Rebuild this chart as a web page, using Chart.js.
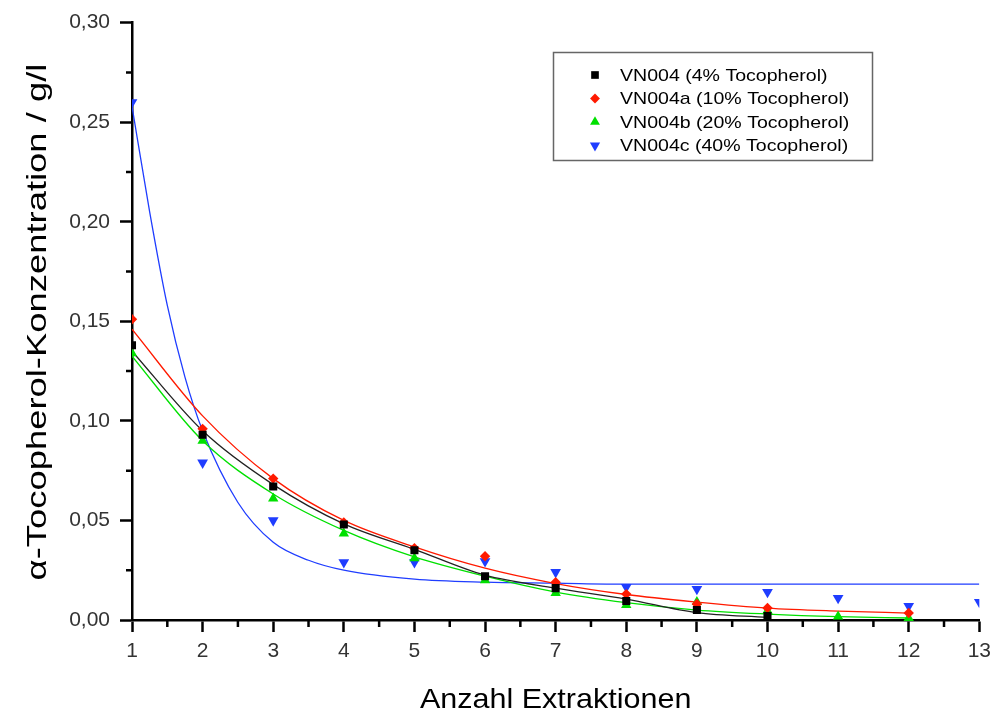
<!DOCTYPE html>
<html>
<head>
<meta charset="utf-8">
<script src="https://cdn.jsdelivr.net/npm/chart.js@4.4.1/dist/chart.umd.min.js"></script>
<style>
  html, body { margin: 0; padding: 0; background: #fff; }
</style>
</head>
<body>
<canvas id="chart" width="998" height="713"></canvas>
<script>
// Measured points (Anzahl Extraktionen -> g/l)
const extractions = [1, 2, 3, 4, 5, 6, 7, 8, 9, 10, 11, 12, 13];
const vn004  = [0.138, 0.093, 0.067, 0.048, 0.035, 0.022, 0.016, 0.0095, 0.005, 0.002];
const vn004a = [0.151, 0.096, 0.071, 0.049, 0.036, 0.032, 0.019, 0.013, 0.008, 0.006, null, 0.0035];
const vn004b = [0.134, 0.090, 0.061, 0.0435, 0.031, 0.020, 0.0135, 0.0075, 0.009, 0.0047, 0.0017, 0.001];
const vn004c = [0.260, 0.079, 0.050, 0.029, 0.029, 0.0295, 0.024, 0.0165, 0.0155, 0.014, 0.011, 0.007, 0.009];

// Fitted curves
const fitX = [1, 2, 3, 4, 5, 6, 7, 8, 9, 10, 11, 12];
const fitVn004  = [0.135, 0.095, 0.068, 0.0483, 0.0355, 0.0225, 0.016, 0.0105, 0.0037, 0.0013];
const fitVn004a = [0.146, 0.1025, 0.071, 0.050, 0.0367, 0.026, 0.0183, 0.0128, 0.009, 0.006, 0.0045, 0.0035];
const fitVn004b = [0.1325, 0.090, 0.0633, 0.045, 0.0317, 0.022, 0.014, 0.0087, 0.005, 0.003, 0.0017, 0.001];
const fitVn004cX = [1, 1.25, 1.5, 1.75, 2, 2.5, 3, 3.5, 4, 5, 6, 7, 8, 10, 13];
const fitVn004c  = [0.258, 0.205, 0.158, 0.122, 0.095, 0.059, 0.039, 0.030, 0.025, 0.0205, 0.019, 0.0185, 0.018, 0.018, 0.018];

const seriesLabels = ['VN004 (4% Tocopherol)', 'VN004a (10% Tocopherol)', 'VN004b (20% Tocopherol)', 'VN004c (40% Tocopherol)'];
const seriesColors = ['#000000', '#ff1a00', '#00e000', '#1f3dff'];

const xMinorTicks = [1.5, 2.5, 3.5, 4.5, 5.5, 6.5, 7.5, 8.5, 9.5, 10.5, 11.5, 12.5];
const yMinorTicks = [0.025, 0.075, 0.125, 0.175, 0.225, 0.275];

const FONT = "'Liberation Sans', Arial, sans-serif";

const pairs = (xs, ys) => ys.map((y, i) => ({ x: xs[i], y }));

const markers = [
  { pointStyle: 'rect', radius: 5.7, rotation: 0 },
  { pointStyle: 'rectRot', radius: 5.2, rotation: 0 },
  { pointStyle: 'triangle', radius: 6, rotation: 0 },
  { pointStyle: 'triangle', radius: 6.2, rotation: 180 }
];

const pointSets = [vn004, vn004a, vn004b, vn004c].map((ys, i) => ({
  label: seriesLabels[i],
  data: pairs(extractions, ys),
  showLine: false,
  backgroundColor: seriesColors[i],
  borderColor: seriesColors[i],
  pointStyle: markers[i].pointStyle,
  pointRadius: markers[i].radius,
  rotation: markers[i].rotation,
  pointBorderWidth: 0,
  clip: { left: 0, top: 10, right: 0, bottom: 10 }
}));

const fitSets = [
  pairs(fitX, fitVn004), pairs(fitX, fitVn004a), pairs(fitX, fitVn004b), pairs(fitVn004cX, fitVn004c)
].map((data, i) => ({
  label: 'fit ' + seriesLabels[i],
  data,
  showLine: true,
  borderColor: i === 0 ? '#222' : seriesColors[i],
  borderWidth: 1.3,
  pointRadius: 0,
  cubicInterpolationMode: 'monotone',
  fill: false
}));

const minorTicks = {
  id: 'minorTicks',
  afterDraw(chart) {
    const { ctx, scales: { x, y } } = chart;
    ctx.save();
    ctx.strokeStyle = '#000';
    ctx.lineWidth = 2.5;
    ctx.beginPath();
    xMinorTicks.forEach(v => {
      const px = x.getPixelForValue(v);
      ctx.moveTo(px, y.bottom);
      ctx.lineTo(px, y.bottom + 7);
    });
    yMinorTicks.forEach(v => {
      const py = y.getPixelForValue(v);
      ctx.moveTo(x.left, py);
      ctx.lineTo(x.left - 6, py);
    });
    ctx.stroke();
    ctx.restore();
  }
};

// The exported original has slightly stretched lettering
function stretchedText(ctx, text, x, y, size, sx, angle, align, baseline) {
  ctx.save();
  ctx.translate(x, y);
  ctx.rotate(angle);
  ctx.scale(sx, 1);
  ctx.font = size + 'px ' + FONT;
  ctx.fillStyle = '#000';
  ctx.textAlign = align;
  ctx.textBaseline = baseline;
  ctx.fillText(text, 0, 0);
  ctx.restore();
}

const titlesAndLegend = {
  id: 'titlesAndLegend',
  afterDraw(chart) {
    const { ctx, chartArea } = chart;

    stretchedText(ctx, 'Anzahl Extraktionen', (chartArea.left + chartArea.right) / 2, 708, 28, 1.09, 0, 'center', 'alphabetic');
    stretchedText(ctx, '\u03b1-Tocopherol-Konzentration / g/l', 38, 322, 28, 1.3, -Math.PI / 2, 'center', 'middle');

    // legend box
    ctx.save();
    ctx.strokeStyle = '#666';
    ctx.lineWidth = 1.5;
    ctx.strokeRect(553.5, 52.5, 319, 108);
    ctx.restore();

    const rows = [75, 98.5, 122, 145.5];
    seriesLabels.forEach((label, i) => {
      ctx.save();
      ctx.fillStyle = seriesColors[i];
      ctx.strokeStyle = seriesColors[i];
      Chart.helpers.drawPoint(ctx, {
        pointStyle: markers[i].pointStyle,
        radius: markers[i].radius * 0.95,
        rotation: markers[i].rotation,
        borderWidth: 0
      }, 595, rows[i]);
      ctx.restore();
      stretchedText(ctx, label, 620, rows[i] + 1, 17, 1.15, 0, 'left', 'middle');
    });
  }
};

new Chart(document.getElementById('chart'), {
  type: 'scatter',
  data: { datasets: [...pointSets, ...fitSets] },
  options: {
    responsive: false,
    devicePixelRatio: 1,
    animation: false,
    layout: { padding: { top: 20, right: 15, left: 0, bottom: 0 } },
    plugins: {
      legend: { display: false },
      tooltip: { enabled: false }
    },
    scales: {
      x: {
        type: 'linear',
        min: 1,
        max: 13,
        afterFit: s => { s.height = 93; },
        ticks: {
          stepSize: 1,
          color: '#333',
          padding: 7,
          maxRotation: 0,
          font: { family: FONT, size: 21 }
        },
        grid: { drawOnChartArea: false, tickLength: 12, tickWidth: 2.5, tickColor: '#000' },
        border: { color: '#000', width: 2.5 }
      },
      y: {
        min: 0,
        max: 0.3,
        afterFit: s => { s.width = 132; },
        ticks: {
          stepSize: 0.05,
          color: '#333',
          padding: 10,
          font: { family: FONT, size: 21 },
          callback: v => v.toFixed(2).replace('.', ',')
        },
        grid: { drawOnChartArea: false, tickLength: 12, tickWidth: 2.5, tickColor: '#000' },
        border: { color: '#000', width: 2.5 }
      }
    }
  },
  plugins: [minorTicks, titlesAndLegend]
});
</script>
</body>
</html>
